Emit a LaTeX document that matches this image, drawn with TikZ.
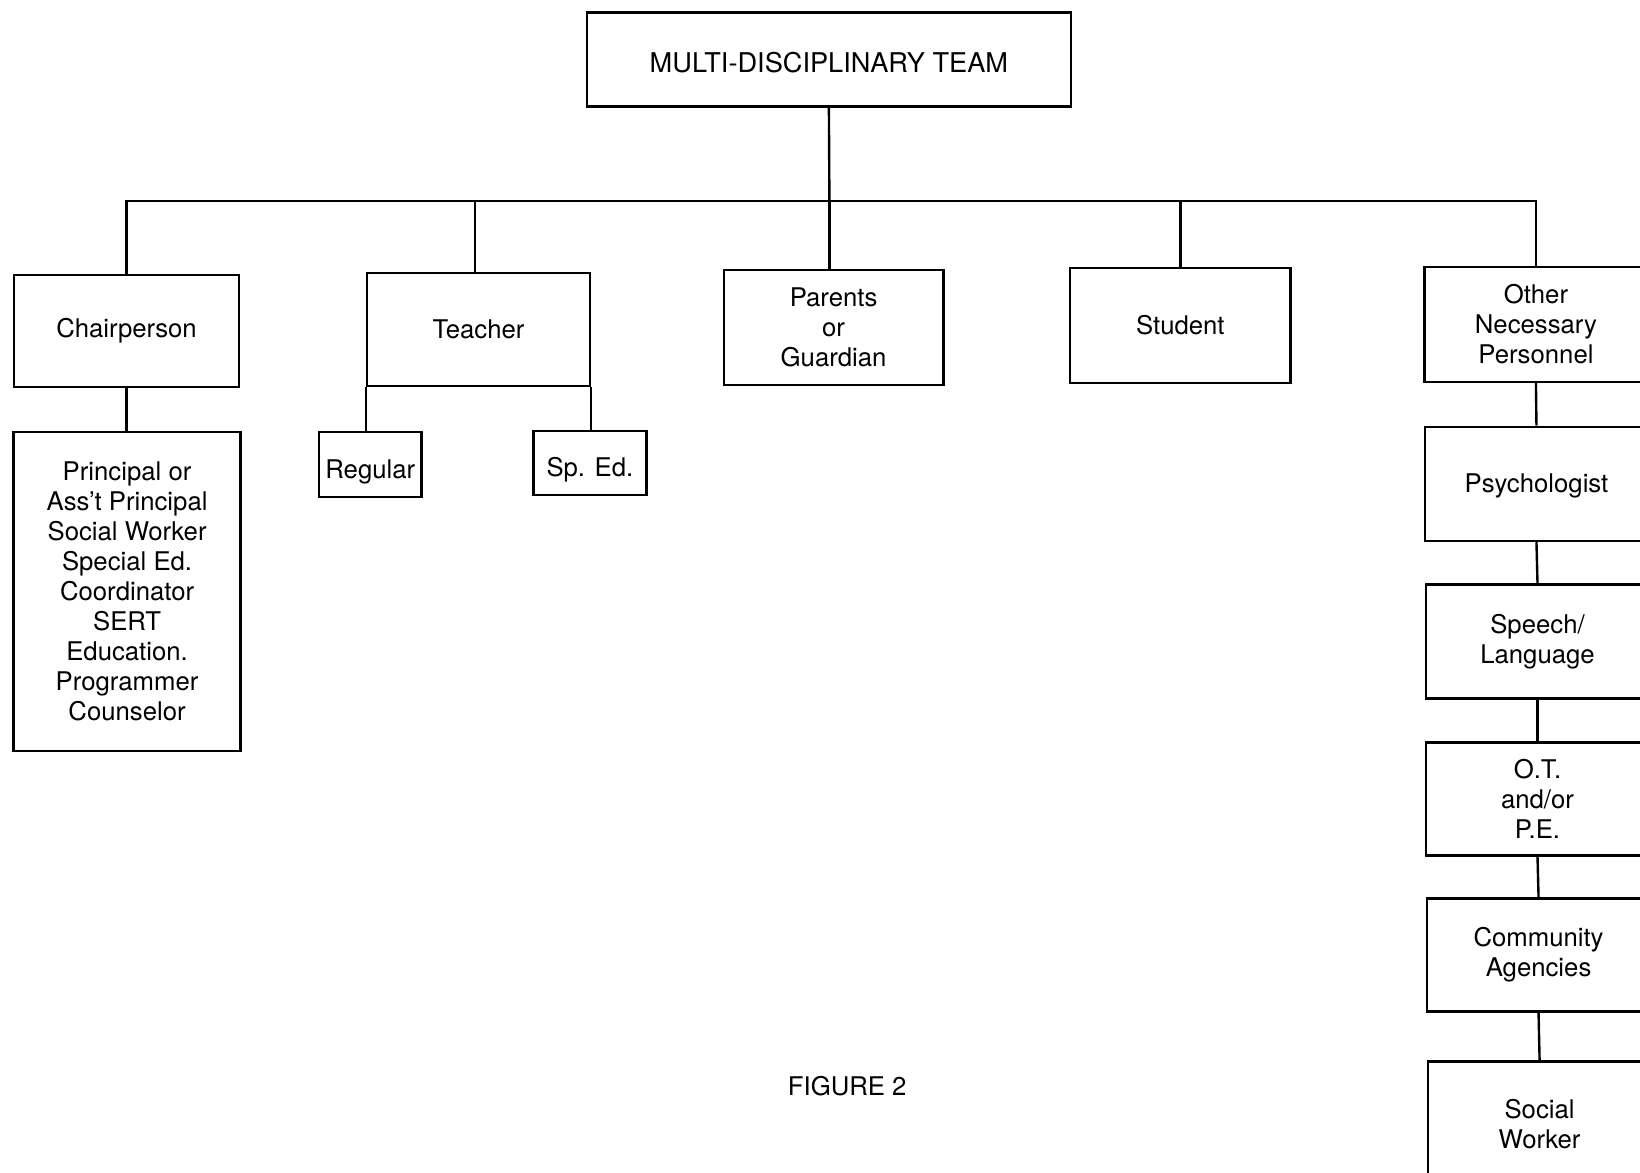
\documentclass[tikz,border=0pt]{standalone}
\usepackage{fontspec}
\setmainfont{TeX Gyre Heros}
\begin{document}
\begin{tikzpicture}[x=0.02cm,y=-0.02cm,
  box/.style={draw,line width=1.3pt,align=center,inner sep=2pt,font=\fontsize{14}{16.3}\selectfont},
  conn/.style={line width=1.3pt}]
\useasboundingbox (0,0) rectangle (1568,1121);
\clip (0,0) rectangle (1568,1121);
\fill[white] (0,0) rectangle (1568,1121);
% top
\node[box,minimum width=463*0.02cm,minimum height=90*0.02cm,font=\fontsize{14.8}{17}\selectfont,text height=14pt] (mdt) at (792.5,57) {MULTI-DISCIPLINARY TEAM};
\coordinate (bus) at (793,192);
% second row
\node[box,minimum width=215*0.02cm,minimum height=107*0.02cm] (chair) at (121,316.5) {Chairperson};
\node[box,minimum width=213*0.02cm,minimum height=108*0.02cm] (teacher) at (457.5,315) {Teacher};
\node[box,minimum width=210*0.02cm,minimum height=110*0.02cm] (parents) at (797,313) {Parents\\or\\Guardian};
\node[box,minimum width=211*0.02cm,minimum height=110*0.02cm] (student) at (1128.5,311) {Student};
\node[box,minimum width=213*0.02cm,minimum height=110*0.02cm] (other) at (1468.5,310) {Other\\Necessary\\Personnel};
% bus connectors
\draw[conn] (mdt.south) -- (bus);
\draw[conn] (chair.north) |- (bus);
\draw[conn] (teacher.north -| 454,0) |- (bus);
\draw[conn] (parents.north -| bus) -- (bus);
\draw[conn] (student.north) |- (bus);
\draw[conn] (other.north) |- (bus);
% chairperson list
\node[box,minimum width=217*0.02cm,minimum height=305*0.02cm] (principal) at (121.5,565.5) {Principal or\\Ass'{}t Principal\\Social Worker\\Special Ed.\\Coordinator\\SERT\\Education.\\Programmer\\Counselor};
\draw[conn] (chair.south) -- (chair.south |- principal.north);
% teacher subdivisions
\node[box,minimum width=98*0.02cm,minimum height=62*0.02cm,inner sep=1pt,text height=18pt] (regular) at (354,444) {Regular};
\node[box,minimum width=108*0.02cm,minimum height=61*0.02cm,text height=18pt] (sped) at (564,442.5) {Sp. Ed.};
\draw[conn] (teacher.south west) -- (teacher.south west |- regular.north);
\draw[conn] (teacher.south east) -- (teacher.south east |- sped.north);
% right column
\node[box,minimum width=213*0.02cm,minimum height=109*0.02cm,text height=13pt] (psych) at (1469,462.5) {Psychologist};
\node[box,minimum width=213*0.02cm,minimum height=109*0.02cm] (speech) at (1470,613.5) {Speech/\\Language};
\node[box,minimum width=213*0.02cm,minimum height=108*0.02cm] (ot) at (1470,764) {O.T.\\and/or\\P.E.};
\node[box,minimum width=213*0.02cm,minimum height=108*0.02cm] (comm) at (1471,913) {Community\\Agencies};
\node[box,minimum width=213*0.02cm,minimum height=120*0.02cm] (social) at (1472,1075) {Social\\Worker};
\draw[conn] (other.south) -- (psych.north);
\draw[conn] (psych.south) -- (speech.north);
\draw[conn] (speech.south) -- (ot.north);
\draw[conn] (ot.south) -- (comm.north);
\draw[conn] (comm.south) -- (social.north);
% caption
\node[font=\fontsize{14}{16}\selectfont] (fig) at (810,1038) {FIGURE 2};
\end{tikzpicture}
\end{document}
